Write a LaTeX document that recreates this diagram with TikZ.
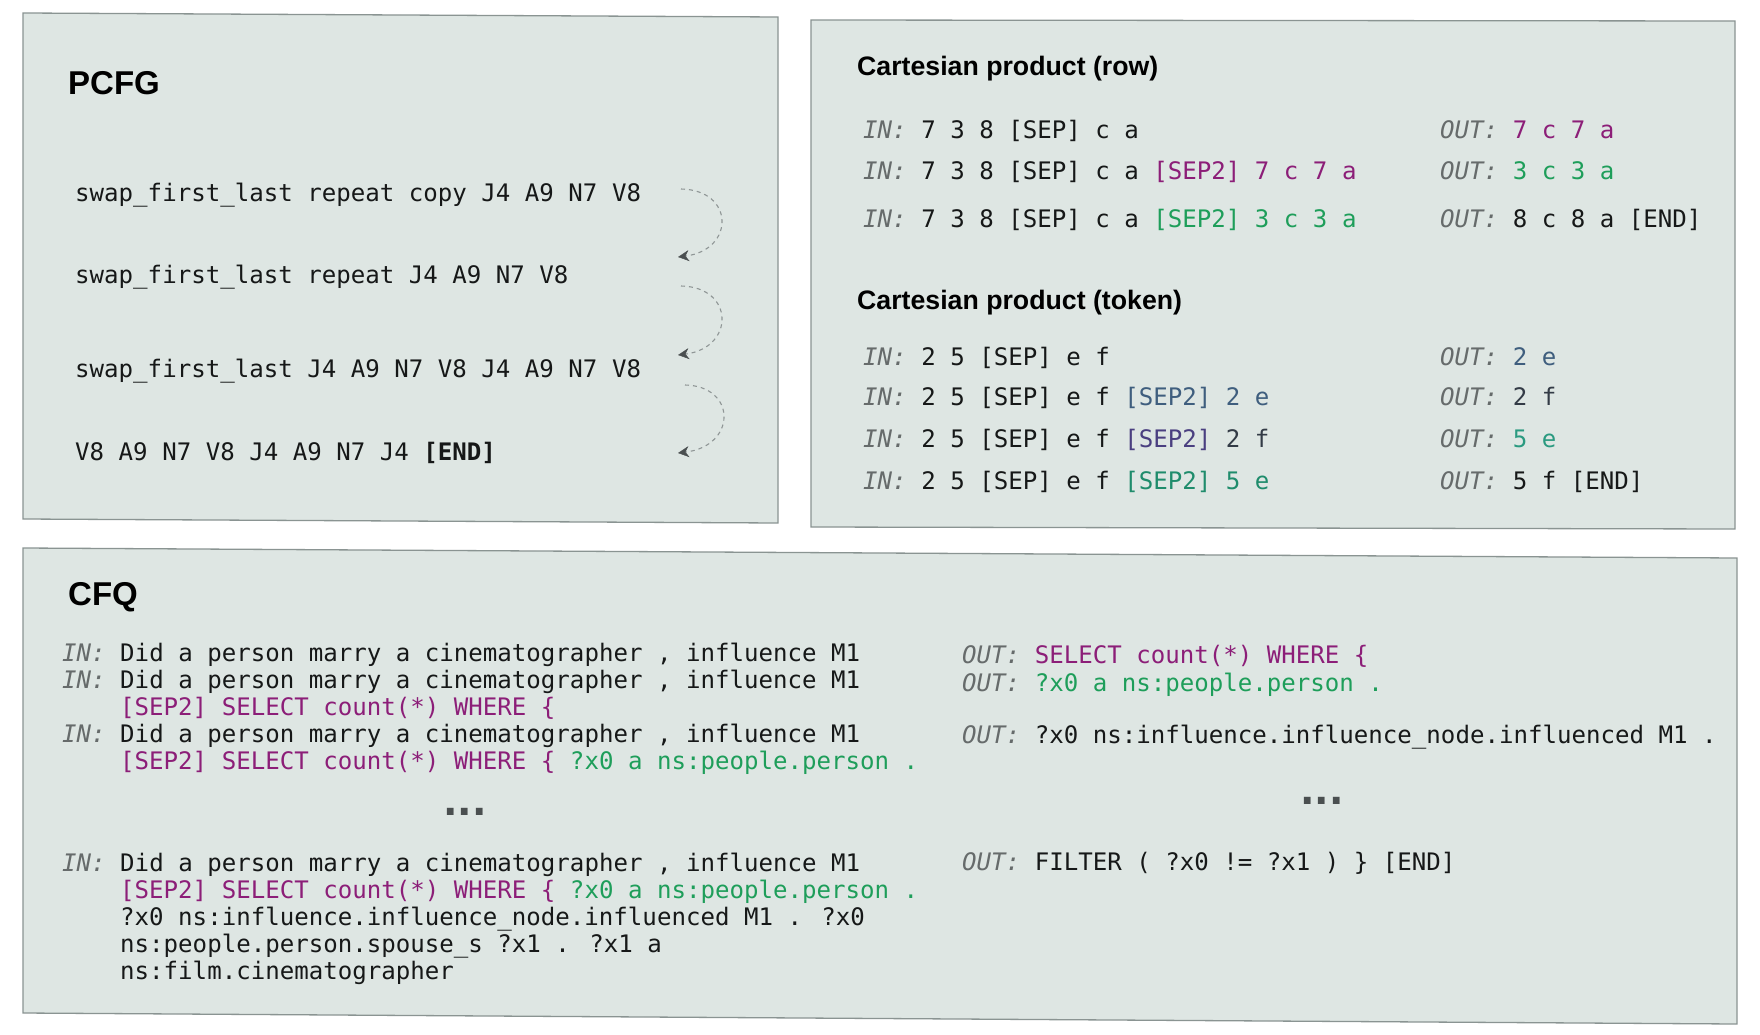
\documentclass[tikz,border=0pt]{standalone}
\usepackage{fontspec}
\setmainfont{Liberation Sans}
\newfontfamily\monof{DejaVu Sans Mono}
\newfontfamily\dejab{DejaVu Sans}
\usetikzlibrary{arrows.meta}
\definecolor{boxfill}{HTML}{DEE6E3}
\definecolor{boxline}{HTML}{8A9492}
\definecolor{labc}{HTML}{666B6B}
\definecolor{txt}{HTML}{161818}
\definecolor{pur}{HTML}{8C1E78}
\definecolor{grn}{HTML}{1E9E5A}
\definecolor{bluec}{HTML}{3F5E7E}
\definecolor{pblue}{HTML}{4A3F80}
\definecolor{darkc}{HTML}{333B46}
\definecolor{tealc}{HTML}{1F8C6C}
\definecolor{teal2}{HTML}{2A9A80}
\definecolor{arrc}{HTML}{8F9696}
\definecolor{dotc}{HTML}{4A4F50}
\newcommand\INl{\textcolor{labc}{\itshape IN:}}
\newcommand\OUTl{\textcolor{labc}{\itshape OUT:}}
\begin{document}
\begin{tikzpicture}[x=1pt,y=-1pt,
  panel/.style={fill=boxfill,draw=boxline,line width=1.3pt},
  ttl/.style={anchor=base west,inner sep=0pt,font=\fontsize{33}{36}\selectfont\bfseries,text=black},
  ttls/.style={anchor=base west,inner sep=0pt,font=\fontsize{26.7}{30}\selectfont\bfseries,text=black},
  code/.style={anchor=base west,inner sep=0pt,text=txt,
    font=\monof\fontsize{24.1}{27.2}\selectfont},
  dotsn/.style={anchor=base west,inner sep=0pt,text=dotc,font=\dejab\bfseries\fontsize{38}{40}\selectfont},
  rarrow/.style={draw=arrc,line width=1.1pt,dash pattern=on 4pt off 4pt,
    -{Stealth[length=11pt,width=11pt,color=dotc,fill=dotc,line width=0.4pt]}}
]
\useasboundingbox (0,0) rectangle (1760,1035);
\fill[white] (0,0) rectangle (1760,1035);

% panels
\draw[panel] (23,13) -- (778,17) -- (778,523) -- (23,519) -- cycle;
\draw[panel] (811,20) -- (1735,21) -- (1735,529) -- (811,527) -- cycle;
\draw[panel] (23,548) -- (1737,558) -- (1737,1024) -- (23,1013) -- cycle;

% PCFG
\node[ttl] (pcfgt) at (68,95) {PCFG};
\node[code] (p1) at (75,201) {swap\_first\_last repeat copy J4 A9 N7 V8};
\node[code] (p2) at (75,283) {swap\_first\_last repeat J4 A9 N7 V8};
\node[code] (p3) at (75,377) {swap\_first\_last J4 A9 N7 V8 J4 A9 N7 V8};
\node[code] (p4) at (75,460) {V8 A9 N7 V8 J4 A9 N7 J4 \textbf{[END]}};

\coordinate (a1s) at (681,189);
\coordinate (a1e) at (678,257);
\coordinate (a2s) at (681,286);
\coordinate (a2e) at (678,355);
\coordinate (a3s) at (685,385);
\coordinate (a3e) at (678,453);
\draw[rarrow] (a1s) .. controls (735,190) and (735,250) .. (a1e);
\draw[rarrow] (a2s) .. controls (735,287) and (735,348) .. (a2e);
\draw[rarrow] (a3s) .. controls (737,386) and (737,446) .. (a3e);

% Cartesian row
\node[ttls] (crt) at (857,76) {Cartesian product (row)};
\node[code] (r1i) at (863,139) {\INl{} 7 3 8 [SEP] c a};
\node[code] (r2i) at (863,180) {\INl{} 7 3 8 [SEP] c a \textcolor{pur}{[SEP2] 7 c 7 a}};
\node[code] (r3i) at (863,227) {\INl{} 7 3 8 [SEP] c a \textcolor{grn}{[SEP2] 3 c 3 a}};
\node[code] (r1o) at (1440,139) {\OUTl{} \textcolor{pur}{7 c 7 a}};
\node[code] (r2o) at (1440,180) {\OUTl{} \textcolor{grn}{3 c 3 a}};
\node[code] (r3o) at (1440,227) {\OUTl{} 8 c 8 a [END]};

% Cartesian token
\node[ttls] (ctt) at (857,309) {Cartesian product (token)};
\node[code] (t1i) at (863,365) {\INl{} 2 5 [SEP] e f};
\node[code] (t2i) at (863,405) {\INl{} 2 5 [SEP] e f \textcolor{bluec}{[SEP2] 2 e}};
\node[code] (t3i) at (863,447) {\INl{} 2 5 [SEP] e f \textcolor{pblue}{[SEP2]} \textcolor{darkc}{2 f}};
\node[code] (t4i) at (863,489) {\INl{} 2 5 [SEP] e f \textcolor{tealc}{[SEP2] 5 e}};
\node[code] (t1o) at (1440,365) {\OUTl{} \textcolor{bluec}{2 e}};
\node[code] (t2o) at (1440,405) {\OUTl{} \textcolor{darkc}{2 f}};
\node[code] (t3o) at (1440,447) {\OUTl{} \textcolor{teal2}{5 e}};
\node[code] (t4o) at (1440,489) {\OUTl{} 5 f [END]};

% CFQ
\node[ttl] (cfqt) at (68,605) {CFQ};
\node[code] (c1) at (62,661) {\INl{} Did a person marry a cinematographer , influence M1};
\node[code] (c2a) at (62,688.2) {\INl{} Did a person marry a cinematographer , influence M1};
\node[code] (c2b) at (120,715.4) {\textcolor{pur}{[SEP2] SELECT count(*) WHERE \{}};
\node[code] (c3a) at (62,742.6) {\INl{} Did a person marry a cinematographer , influence M1};
\node[code] (c3b) at (120,769.8) {\textcolor{pur}{[SEP2] SELECT count(*) WHERE \{} \textcolor{grn}{?x0 a ns:people.person .}};
\node[dotsn] (cd1) at (443,815.5) {...};
\node[code] (c4a) at (62,871) {\INl{} Did a person marry a cinematographer , influence M1};
\node[code] (c4b) at (120,898.2) {\textcolor{pur}{[SEP2] SELECT count(*) WHERE \{} \textcolor{grn}{?x0 a ns:people.person .}};
\node[code] (c4c) at (120,925.4) {?x0 ns:influence.influence\_node.influenced M1 . ?x0};
\node[code] (c4d) at (120,952.6) {ns:people.person.spouse\_s ?x1 . ?x1 a};
\node[code] (c4e) at (120,979.8) {ns:film.cinematographer};

\node[code] (o1) at (962,663) {\OUTl{} \textcolor{pur}{SELECT count(*) WHERE \{}};
\node[code] (o2) at (962,691) {\OUTl{} \textcolor{grn}{?x0 a ns:people.person .}};
\node[code] (o3) at (962,743) {\OUTl{} ?x0 ns:influence.influence\_node.influenced M1 .};
\node[dotsn] (cd2) at (1300,804.5) {...};
\node[code] (o4) at (962,870) {\OUTl{} FILTER ( ?x0 != ?x1 ) \} [END]};
\end{tikzpicture}
\end{document}
